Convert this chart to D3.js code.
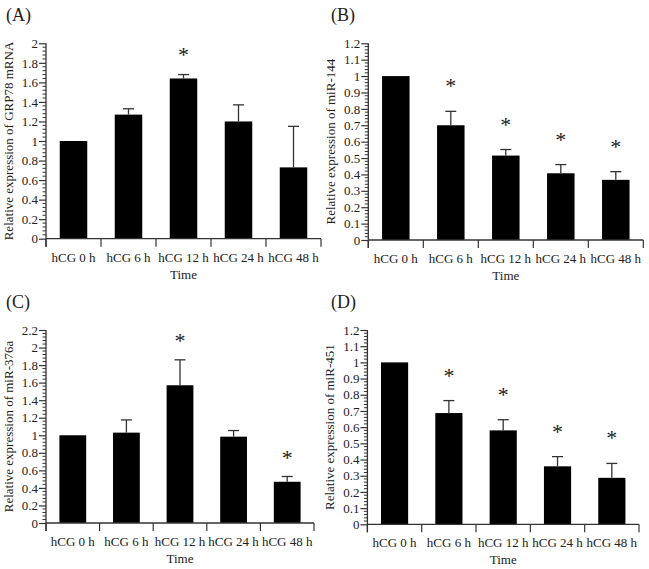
<!DOCTYPE html>
<html>
<head>
<meta charset="utf-8">
<script src="https://cdn.jsdelivr.net/npm/d3@7"></script>
<style>
  html, body { margin: 0; padding: 0; background: #fff; }
  svg { display: block; }
  text { font-family: "Liberation Serif", "Times New Roman", serif; fill: #222; }
</style>
</head>
<body>
<svg id="chart" width="649" height="569"></svg>
<script>
// ---------- data ----------
const categories = ["hCG 0 h", "hCG 6 h", "hCG 12 h", "hCG 24 h", "hCG 48 h"];

const grp78Values = [1.0, 1.27, 1.64, 1.20, 0.73];
const grp78Errors = [0, 0.06, 0.04, 0.17, 0.42];
const grp78Stars  = [false, false, true, false, false];

const mir144Values = [1.0, 0.70, 0.515, 0.407, 0.367];
const mir144Errors = [0, 0.085, 0.037, 0.053, 0.05];
const mir144Stars  = [false, true, true, true, true];

const mir376aValues = [1.0, 1.03, 1.57, 0.984, 0.47];
const mir376aErrors = [0, 0.145, 0.29, 0.07, 0.06];
const mir376aStars  = [false, false, true, false, true];

const mir451Values = [1.0, 0.687, 0.58, 0.358, 0.287];
const mir451Errors = [0, 0.077, 0.066, 0.06, 0.089];
const mir451Stars  = [false, true, true, true, true];

const ticksA = [0, 0.2, 0.4, 0.6, 0.8, 1, 1.2, 1.4, 1.6, 1.8, 2];
const ticksB = [0, 0.1, 0.2, 0.3, 0.4, 0.5, 0.6, 0.7, 0.8, 0.9, 1, 1.1, 1.2];
const ticksC = [0, 0.2, 0.4, 0.6, 0.8, 1, 1.2, 1.4, 1.6, 1.8, 2, 2.2];
const ticksD = [0, 0.1, 0.2, 0.3, 0.4, 0.5, 0.6, 0.7, 0.8, 0.9, 1, 1.1, 1.2];

const xTitle = "Time";

// ---------- panels ----------
const panels = [
  { letter: "(A)", title: "Relative expression of GRP78 mRNA", values: grp78Values, errors: grp78Errors, stars: grp78Stars, ticks: ticksA,
    x0: 46, x1: 321, yTop: 43.3, y0: 238.7, lx: 6, ly: 21, starGap: 22 },
  { letter: "(B)", title: "Relative expression of miR-144", values: mir144Values, errors: mir144Errors, stars: mir144Stars, ticks: ticksB,
    x0: 368.3, x1: 643.3, yTop: 43.3, y0: 240, lx: 331, ly: 21, starGap: 27 },
  { letter: "(C)", title: "Relative expression of miR-376a", values: mir376aValues, errors: mir376aErrors, stars: mir376aStars, ticks: ticksC,
    x0: 46, x1: 314, yTop: 330, y0: 523, lx: 6, ly: 308, starGap: 21 },
  { letter: "(D)", title: "Relative expression of miR-451", values: mir451Values, errors: mir451Errors, stars: mir451Stars, ticks: ticksD,
    x0: 367.4, x1: 639, yTop: 330, y0: 524.3, lx: 331, ly: 308, starGap: 27 }
];

const svg = d3.select("#chart");
const axisColor = "#333";

panels.forEach(p => {
  const g = svg.append("g");
  const yMax = p.ticks[p.ticks.length - 1];
  const step = p.ticks[1] - p.ticks[0];

  const x = d3.scaleBand().domain(categories).range([p.x0, p.x1]).paddingInner(0.5).paddingOuter(0.25);
  const y = d3.scaleLinear().domain([0, yMax]).range([p.y0, p.yTop]);

  // panel letter
  g.append("text").attr("x", p.lx).attr("y", p.ly).attr("font-size", 18).text(p.letter);

  // bars
  g.selectAll("rect.bar").data(categories).enter().append("rect")
    .attr("x", d => x(d))
    .attr("width", x.bandwidth())
    .attr("y", (d, i) => y(p.values[i]))
    .attr("height", (d, i) => y(0) - y(p.values[i]))
    .attr("fill", "#000");

  // error bars (upper only)
  categories.forEach((c, i) => {
    if (!p.errors[i]) return;
    const cx = x(c) + x.bandwidth() / 2;
    const top = y(p.values[i] + p.errors[i]);
    g.append("line").attr("x1", cx).attr("x2", cx).attr("y1", y(p.values[i])).attr("y2", top)
      .attr("stroke", axisColor).attr("stroke-width", 1.3);
    g.append("line").attr("x1", cx - 5.5).attr("x2", cx + 5.5).attr("y1", top).attr("y2", top)
      .attr("stroke", axisColor).attr("stroke-width", 1.3);
    if (p.stars[i]) {
      g.append("text").attr("x", cx).attr("y", top - p.starGap + 9)
        .attr("text-anchor", "middle").attr("font-size", 22).attr("fill", "#222").text("*");
    }
  });
  categories.forEach((c, i) => {
    if (p.errors[i] || !p.stars[i]) return;
  });

  // y axis major
  const yAxis = d3.axisLeft(y).tickValues(p.ticks).tickSize(7).tickPadding(1)
    .tickFormat(d => d3.format("~g")(+d.toFixed(2)));
  const ya = g.append("g").attr("transform", `translate(${p.x0},0)`).call(yAxis);
  ya.select(".domain").attr("stroke", axisColor).attr("stroke-width", 1.3)
    .attr("d", `M0,${p.yTop}V${p.y0 + 8}`);
  ya.selectAll(".tick line").attr("stroke", axisColor).attr("stroke-width", 1.2);
  ya.selectAll(".tick text").attr("font-size", 13).attr("fill", "#222")
    .attr("font-family", "Liberation Serif, serif");

  // y axis minor ticks (5 subdivisions)
  const minor = d3.range(0, Math.round(yMax / step * 5) + 1).map(k => k * step / 5)
    .filter((v, k) => k % 5 !== 0);
  g.selectAll("line.minor").data(minor).enter().append("line")
    .attr("x1", p.x0 - 3.5).attr("x2", p.x0)
    .attr("y1", d => y(d)).attr("y2", d => y(d))
    .attr("stroke", axisColor).attr("stroke-width", 1);

  // x axis line + boundary ticks
  g.append("line").attr("x1", p.x0).attr("x2", p.x1).attr("y1", p.y0).attr("y2", p.y0)
    .attr("stroke", axisColor).attr("stroke-width", 1.3);
  const bounds = d3.range(categories.length + 1).map(i => p.x0 + i * x.step());
  g.selectAll("line.bt").data(bounds).enter().append("line")
    .attr("x1", d => d).attr("x2", d => d).attr("y1", p.y0).attr("y2", p.y0 + 8)
    .attr("stroke", axisColor).attr("stroke-width", 1.2);

  // x tick labels
  g.selectAll("text.xl").data(categories).enter().append("text")
    .attr("x", d => x(d) + x.bandwidth() / 2).attr("y", p.y0 + 23)
    .attr("text-anchor", "middle").attr("font-size", 13).text(d => d);

  // x title
  g.append("text").attr("x", (p.x0 + p.x1) / 2).attr("y", p.y0 + 40)
    .attr("text-anchor", "middle").attr("font-size", 13).text(xTitle);

  // y title
  g.append("text")
    .attr("transform", `translate(${p.x0 - 33},${(p.yTop + p.y0) / 2}) rotate(-90)`)
    .attr("text-anchor", "middle").attr("font-size", 13).attr("fill", "#3a2a1a").text(p.title);
});
</script>
</body>
</html>
